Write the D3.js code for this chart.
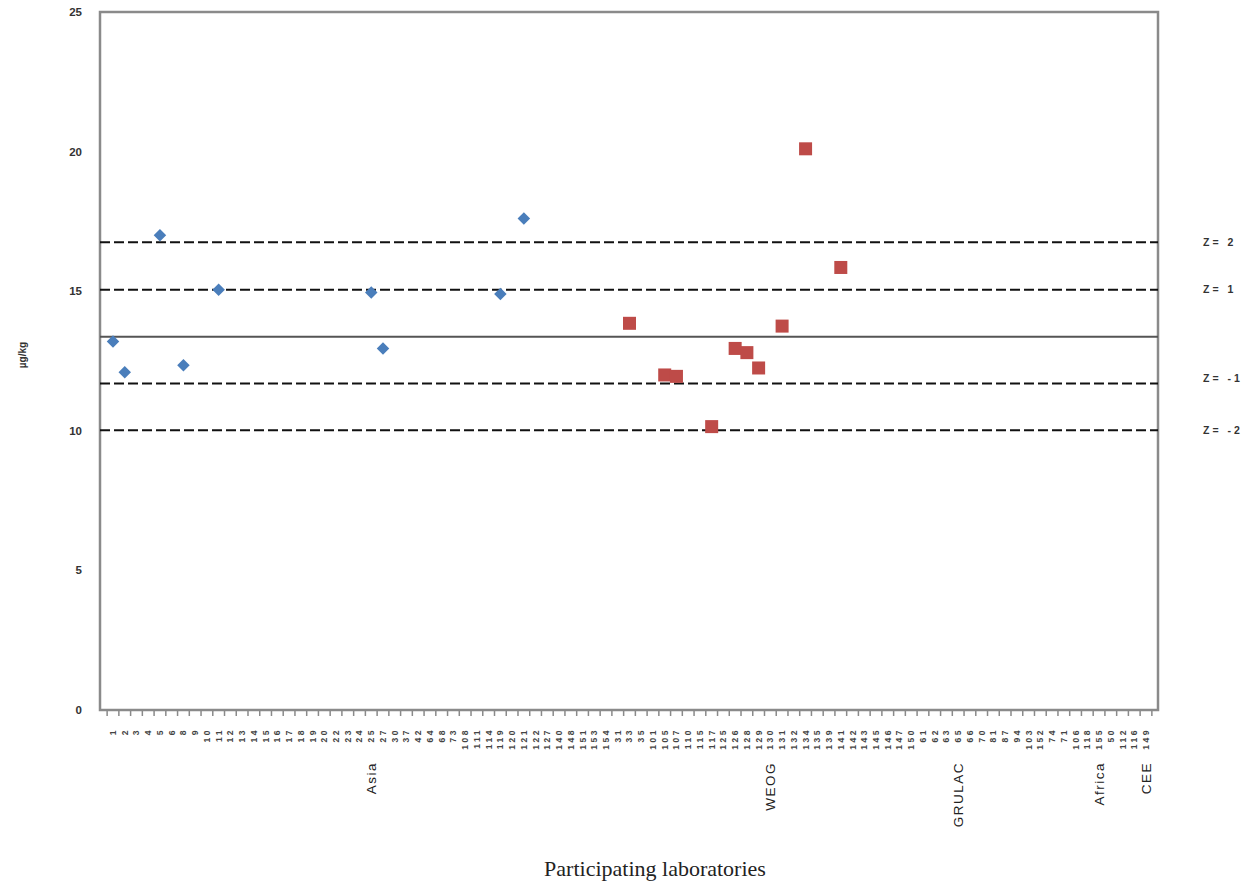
<!DOCTYPE html>
<html>
<head>
<meta charset="utf-8">
<script src="https://cdn.jsdelivr.net/npm/d3@7"></script>
<style>
  body { margin: 0; background: #fff; }
  text { font-family: "Liberation Sans", Arial, sans-serif; }
</style>
</head>
<body>
<svg id="chart" width="1248" height="886"></svg>
<script>
// participating laboratory codes, in the order they sit on the axis
var labs = ["1","2","3","4","5","6","8","9","10","11","12","13","14","15","16","17","18","19","20","22","23","24","25","27","30","37","42","64","68","73",
            "108","111","114","119","120","121","122","127","140","148","151","153","154",
            "31","33","35","101","105","107","110","115","117","125","126","128","129","130","131","132","134","135","139","141","142","143","145","146","147","150",
            "61","62","63","65","66","70","81","87","94","103","152",
            "74","71","106","118","155","50","112","116","149"];

// regional groups and the lab their caption sits under
var groups = ["Asia", "WEOG", "GRULAC", "Africa", "CEE"];
var groupAt = ["25", "130", "65", "155", "149"];

// reported results (µg/kg)
var asiaLabs = ["1","2","5","8","11","25","27","119","121"];
var asiaVals = [13.2, 12.1, 17.0, 12.35, 15.05, 14.95, 12.95, 14.9, 17.6];
var weogLabs = ["33","105","107","117","126","128","129","131","134","141"];
var weogVals = [13.85, 12.0, 11.95, 10.15, 12.95, 12.8, 12.25, 13.75, 20.1, 15.85];

// assigned value and z-score limits
var refVals = [16.75, 15.05, 13.37, 11.69, 10.02];
var refNames = ["Z= 2", "Z= 1", "", "Z= -1", "Z= -2"];

var yTicks = [0, 5, 10, 15, 20, 25];

var svg = d3.select("#chart");
var plotLeft = 100, plotRight = 1158, plotTop = 12, plotBottom = 710;

var x = d3.scalePoint().domain(labs).range([113, 1146]);
var y = d3.scaleLinear().domain([0, 25]).range([plotBottom, plotTop]);
var step = x.step();

// plot frame
svg.append("rect")
  .attr("x", plotLeft).attr("y", plotTop)
  .attr("width", plotRight - plotLeft).attr("height", plotBottom - plotTop)
  .attr("fill", "none").attr("stroke", "#8a8a8a").attr("stroke-width", 2.5);

// category tick marks sit between labs
var tickPos = labs.map(function(d) { return x(d) - step / 2; });
tickPos.push(x(labs[labs.length - 1]) + step / 2);
svg.append("g").selectAll("line")
  .data(tickPos).enter()
  .append("line")
  .attr("x1", function(d) { return d; }).attr("x2", function(d) { return d; })
  .attr("y1", plotBottom).attr("y2", plotBottom + 6)
  .attr("stroke", "#8a8a8a").attr("stroke-width", 1.5);

// y axis labels
svg.append("g").selectAll("text")
  .data(yTicks).enter()
  .append("text")
  .attr("x", 82).attr("y", function(d) { return y(d); })
  .attr("dy", "0.35em")
  .attr("text-anchor", "end")
  .attr("font-size", 11.5).attr("font-weight", "bold").attr("fill", "#333")
  .text(function(d) { return d; });

// lab labels, rotated
svg.append("g").selectAll("text")
  .data(labs).enter()
  .append("text")
  .attr("transform", function(d) { return "translate(" + x(d) + "," + 728 + ") rotate(-90)"; })
  .attr("dy", "0.35em")
  .attr("text-anchor", "end")
  .attr("font-size", 8.5).attr("font-weight", "bold").attr("letter-spacing", 2.5).attr("fill", "#444")
  .text(function(d) { return d; });

// group captions
svg.append("g").selectAll("text")
  .data(groups).enter()
  .append("text")
  .attr("transform", function(d, i) { return "translate(" + x(groupAt[i]) + "," + 762 + ") rotate(-90)"; })
  .attr("dy", "0.35em")
  .attr("text-anchor", "end")
  .attr("font-size", 13.5).attr("letter-spacing", 1.5).attr("fill", "#222")
  .text(function(d) { return d; });

// reference lines
svg.append("g").selectAll("line")
  .data(refVals).enter()
  .append("line")
  .attr("x1", plotLeft).attr("x2", plotRight)
  .attr("y1", function(d) { return y(d); }).attr("y2", function(d) { return y(d); })
  .attr("stroke", function(d, i) { return refNames[i] === "" ? "#555" : "#111"; })
  .attr("stroke-width", 2)
  .attr("stroke-dasharray", function(d, i) { return refNames[i] === "" ? null : "10,4"; });

svg.append("g").selectAll("text")
  .data(refVals).enter()
  .append("text")
  .attr("x", 1203).attr("y", function(d) { return y(d); })
  .attr("dy", function(d, i) { return i === 3 ? "-0.2em" : "0.35em"; })
  .attr("font-size", 10.5).attr("font-weight", "bold").attr("letter-spacing", 3).attr("fill", "#333")
  .text(function(d, i) { return refNames[i]; });

// Asia results: diamonds
svg.append("g").selectAll("path")
  .data(asiaVals).enter()
  .append("path")
  .attr("d", d3.symbol().type(d3.symbolDiamond2).size(100))
  .attr("transform", function(d, i) { return "translate(" + x(asiaLabs[i]) + "," + y(d) + ")"; })
  .attr("fill", "#4a7ebb");

// WEOG results: squares
svg.append("g").selectAll("rect.sq")
  .data(weogVals).enter()
  .append("rect")
  .attr("class", "sq")
  .attr("x", function(d, i) { return x(weogLabs[i]) - 6.5; })
  .attr("y", function(d) { return y(d) - 6.5; })
  .attr("width", 13).attr("height", 13)
  .attr("fill", "#be4b48");

// axis titles
svg.append("text")
  .attr("transform", "translate(22,355) rotate(-90)")
  .attr("dy", "0.35em")
  .attr("text-anchor", "middle")
  .attr("font-size", 10).attr("font-weight", "bold").attr("fill", "#333")
  .text("µg/kg");

svg.append("text")
  .attr("x", 655).attr("y", 876)
  .attr("text-anchor", "middle")
  .style("font-family", "'Liberation Serif', 'Times New Roman', serif")
  .attr("font-size", 22).attr("fill", "#222")
  .text("Participating laboratories");
</script>
</body>
</html>
